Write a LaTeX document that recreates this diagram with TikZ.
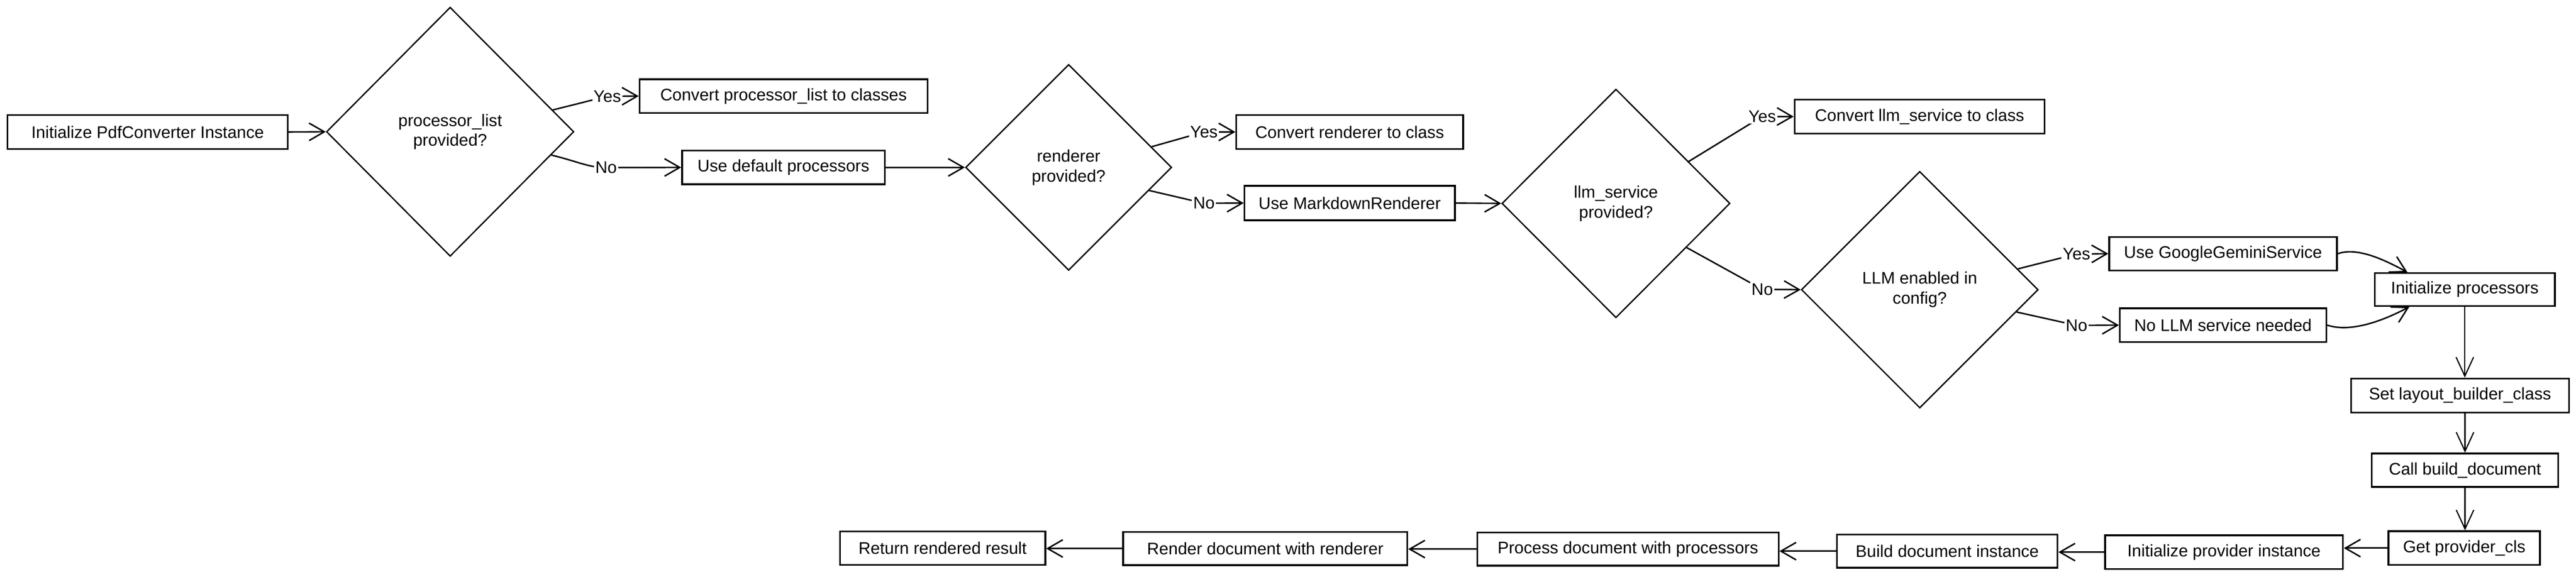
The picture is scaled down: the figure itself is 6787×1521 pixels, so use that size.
\documentclass[tikz,border=0pt]{standalone}
\usepackage{fontspec}
\setmainfont{Liberation Sans}
\usetikzlibrary{arrows.meta,shapes.geometric}
\begin{document}
\begin{tikzpicture}[x=0.1mm,y=-0.1mm,
  txt/.style={font=\fontsize{12.6}{15}\selectfont},
  box/.style={txt, draw, line width=1.3pt, inner sep=0pt, align=center},
  dia/.style={txt, draw, diamond, line width=1pt, inner sep=0pt, align=center},
  arr/.style={line width=1.1pt, -{Straight Barb[length=4mm,width=4.6mm,line width=1.1pt]}},
  thinarr/.style={line width=0.9pt, -{Straight Barb[length=5mm,width=4.6mm,line width=0.9pt]}},
  lbl/.style={txt, fill=white, inner sep=1pt}
]
\useasboundingbox (0,0) rectangle (6787,1521);

% top row
\node[box, minimum width=73.8mm, minimum height=9mm] (init) at (389,348) {Initialize PdfConverter Instance};
\node[dia, minimum width=65.2mm, minimum height=65.7mm] (d1) at (1186,347.5) {processor\_list\\provided?};
\node[box, minimum width=75.9mm, minimum height=8.9mm] (yes1) at (2064.5,253.5) {Convert processor\_list to classes};
\node[box, minimum width=53.4mm, minimum height=8.9mm] (no1) at (2064,441.5) {Use default processors};
\node[dia, minimum width=54.3mm, minimum height=54.3mm] (d2) at (2815.5,441.5) {renderer\\provided?};
\node[box, minimum width=59.8mm, minimum height=9mm] (yes2) at (3556,348) {Convert renderer to class};
\node[box, minimum width=55.4mm, minimum height=9.1mm] (no2) at (3556,535.5) {Use MarkdownRenderer};
\node[dia, minimum width=60.1mm, minimum height=60.3mm] (d3) at (4257.5,536.5) {llm\_service\\provided?};
\node[box, minimum width=65.9mm, minimum height=8.9mm] (yes3) at (5057.5,307.5) {Convert llm\_service to class};
\node[dia, minimum width=62.4mm, minimum height=62.4mm] (d4) at (5058,764) {LLM enabled in\\config?};
\node[box, minimum width=60mm, minimum height=8.8mm] (gem) at (5857,669) {Use GoogleGeminiService};
\node[box, minimum width=54.4mm, minimum height=8.9mm] (nollm) at (5857,857.5) {No LLM service needed};
\node[box, minimum width=47.4mm, minimum height=8.7mm] (initproc) at (6494,763.5) {Initialize processors};
\node[box, minimum width=57.5mm, minimum height=9mm] (setlay) at (6481.5,1043) {Set layout\_builder\_class};
\node[box, minimum width=49.1mm, minimum height=8.8mm] (callbuild) at (6494.5,1240) {Call build\_document};
% bottom row
\node[box, minimum width=39.9mm, minimum height=8.9mm] (getprov) at (6492.5,1445.5) {Get provider\_cls};
\node[box, minimum width=62.7mm, minimum height=8.9mm] (initprov) at (5859.5,1456) {Initialize provider instance};
\node[box, minimum width=58.1mm, minimum height=8.7mm] (builddoc) at (5130.5,1453.5) {Build document instance};
\node[box, minimum width=79.4mm, minimum height=8.8mm] (process) at (4289,1448) {Process document with processors};
\node[box, minimum width=74.9mm, minimum height=8.8mm] (render) at (3333.5,1446.5) {Render document with renderer};
\node[box, minimum width=54.1mm, minimum height=8.8mm] (ret) at (2483.5,1445.5) {Return rendered result};

% connectors
\draw[arr] (init.east) -- (d1.west);
\draw[arr] (d1.12) -- (1600,254) node[lbl] {Yes} -- (yes1.west);
\draw[arr] (d1.-13) .. controls (1520,425) and (1550,442) .. (1597,442) node[lbl] {No} -- (no1.west);
\draw[arr] (no1.east) -- (d2.west);
\draw[arr] (d2.14) -- (3172,348) node[lbl] {Yes} -- (yes2.west);
\draw[arr] (d2.-16) -- (3172,536) node[lbl] {No} -- (no2.west);
\draw[arr] (no2.east) -- (d3.west);
\draw[arr] (d3.30) -- (4643,307) node[lbl] {Yes} -- (yes3.west);
\draw[arr] (d3.-32) -- (4643,763) node[lbl] {No} -- (d4.west);
\draw[arr] (d4.12) -- (5471,670) node[lbl] {Yes} -- (gem.west);
\draw[arr] (d4.-13) -- (5471,858) node[lbl] {No} -- (nollm.west);
\draw[arr] (gem.east) .. controls (6215,650) and (6290,690) .. ([xshift=8.8mm]initproc.north west);
\draw[arr] (nollm.east) .. controls (6195,878) and (6280,845) .. ([xshift=9.3mm]initproc.south west);
\draw[thinarr] (initproc.south) -- (initproc.south |- setlay.north);
\draw[thinarr] (callbuild.north |- setlay.south) -- (callbuild.north);
\draw[thinarr] (callbuild.south) -- (callbuild.south |- getprov.north);
\draw[arr] (getprov.west) -- (getprov.west -| initprov.east);
\draw[arr] (initprov.west) -- (initprov.west -| builddoc.east);
\draw[arr] (builddoc.west) -- (builddoc.west -| process.east);
\draw[arr] (process.west) -- (process.west -| render.east);
\draw[arr] (render.west) -- (render.west -| ret.east);
\end{tikzpicture}
\end{document}
